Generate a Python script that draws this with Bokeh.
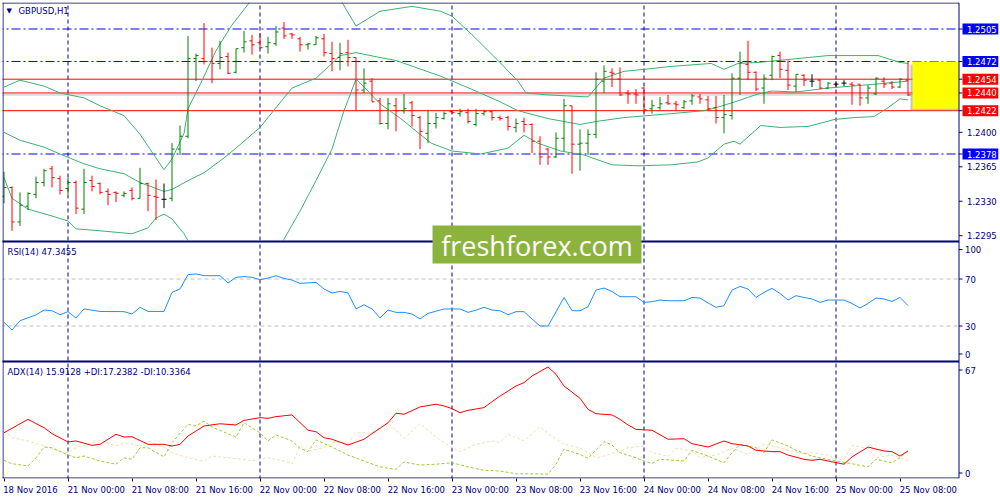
from bokeh.plotting import figure
from bokeh.models import Range1d, FixedTicker, Label, ColumnDataSource
from bokeh.core.properties import value
from bokeh.embed import file_html
from bokeh.resources import INLINE

# ---------------- data ----------------
symbol = "GBPUSD,H1"
time_ticks = list(range(0, 113, 8))
time_labels = ["18 Nov 2016", "21 Nov 00:00", "21 Nov 08:00", "21 Nov 16:00", "22 Nov 00:00",
               "22 Nov 08:00", "22 Nov 16:00", "23 Nov 00:00", "23 Nov 08:00", "23 Nov 16:00",
               "24 Nov 00:00", "24 Nov 08:00", "24 Nov 16:00", "25 Nov 00:00", "25 Nov 08:00"]
day_grid = [8, 32, 56, 80, 104]

opens = [1.2335,1.2344,1.2309,1.2325,1.2337,1.2349,1.2363,1.2353,1.2343,1.2349,
1.2322,1.2351,1.2348,1.2340,1.2339,1.2336,1.2341,1.2333,1.2348,1.2335,
1.2332,1.2333,1.2383,1.2396,1.2475,1.2475,1.2472,1.2470,1.2477,1.2461,
1.2486,1.2493,1.2491,1.2487,1.2490,1.2506,1.2500,1.2495,1.2489,1.2489,
1.2495,1.2480,1.2476,1.2481,1.2476,1.2443,1.2452,1.2432,1.2409,1.2427,
1.2422,1.2430,1.2415,1.2399,1.2409,1.2414,1.2421,1.2419,1.2420,1.2408,
1.2419,1.2421,1.2415,1.2415,1.2405,1.2411,1.2408,1.2391,1.2383,1.2375,
1.2394,1.2427,1.2388,1.2389,1.2398,1.2452,1.2461,1.2454,1.2440,1.2439,
1.2445,1.2424,1.2425,1.2430,1.2429,1.2425,1.2432,1.2436,1.2433,1.2425,
1.2415,1.2417,1.2455,1.2469,1.2461,1.2445,1.2458,1.2478,1.2463,1.2447,
1.2458,1.2452,1.2453,1.2445,1.2449,1.2450,1.2449,1.2449,1.2435,1.2439,
1.2452,1.2450,1.2446,1.2453]
highs = [1.2360,1.2345,1.2339,1.2339,1.2355,1.2363,1.2366,1.2356,1.2354,1.2351,
1.2363,1.2356,1.2349,1.2343,1.2340,1.2340,1.2344,1.2364,1.2349,1.2352,
1.2348,1.2389,1.2407,1.2498,1.2480,1.2511,1.2486,1.2493,1.2481,1.2485,
1.2503,1.2499,1.2501,1.2497,1.2508,1.2512,1.2501,1.2497,1.2491,1.2498,
1.2500,1.2492,1.2491,1.2494,1.2476,1.2465,1.2455,1.2435,1.2435,1.2435,
1.2439,1.2432,1.2417,1.2423,1.2420,1.2421,1.2422,1.2424,1.2424,1.2424,
1.2423,1.2422,1.2417,1.2417,1.2414,1.2415,1.2409,1.2396,1.2384,1.2400,
1.2434,1.2427,1.2403,1.2403,1.2461,1.2468,1.2465,1.2466,1.2443,1.2444,
1.2446,1.2433,1.2436,1.2438,1.2432,1.2433,1.2439,1.2439,1.2437,1.2437,
1.2438,1.2460,1.2482,1.2493,1.2462,1.2459,1.2478,1.2482,1.2473,1.2459,
1.2459,1.2459,1.2454,1.2451,1.2452,1.2453,1.2451,1.2449,1.2448,1.2456,
1.2456,1.2452,1.2455,1.2472]
lows = [1.2328,1.2300,1.2305,1.2321,1.2333,1.2345,1.2344,1.2337,1.2337,1.2317,
1.2317,1.2340,1.2337,1.2326,1.2329,1.2334,1.2331,1.2333,1.2320,1.2311,
1.2323,1.2330,1.2377,1.2394,1.2452,1.2469,1.2450,1.2464,1.2459,1.2460,
1.2481,1.2479,1.2485,1.2480,1.2488,1.2495,1.2495,1.2482,1.2484,1.2489,
1.2477,1.2462,1.2463,1.2467,1.2422,1.2440,1.2431,1.2408,1.2403,1.2401,
1.2419,1.2406,1.2383,1.2389,1.2404,1.2413,1.2419,1.2416,1.2409,1.2406,
1.2417,1.2412,1.2412,1.2402,1.2400,1.2400,1.2379,1.2367,1.2367,1.2374,
1.2381,1.2358,1.2361,1.2377,1.2394,1.2440,1.2446,1.2437,1.2429,1.2429,
1.2420,1.2419,1.2423,1.2428,1.2422,1.2424,1.2428,1.2429,1.2422,1.2409,
1.2399,1.2413,1.2438,1.2453,1.2442,1.2429,1.2453,1.2455,1.2443,1.2441,
1.2447,1.2446,1.2444,1.2444,1.2446,1.2447,1.2428,1.2427,1.2429,1.2438,
1.2445,1.2444,1.2445,1.2437]
closes = [1.2344,1.2309,1.2326,1.2338,1.2349,1.2361,1.2354,1.2341,1.2349,1.2323,
1.2349,1.2345,1.2339,1.2337,1.2338,1.2338,1.2333,1.2348,1.2336,1.2334,
1.2332,1.2383,1.2396,1.2475,1.2478,1.2472,1.2470,1.2476,1.2460,1.2485,
1.2492,1.2489,1.2486,1.2491,1.2502,1.2498,1.2499,1.2489,1.2490,1.2496,
1.2481,1.2475,1.2480,1.2476,1.2443,1.2450,1.2431,1.2409,1.2429,1.2422,
1.2424,1.2417,1.2401,1.2409,1.2415,1.2419,1.2420,1.2421,1.2411,1.2419,
1.2421,1.2415,1.2414,1.2406,1.2409,1.2408,1.2391,1.2375,1.2375,1.2394,
1.2427,1.2388,1.2389,1.2398,1.2454,1.2462,1.2460,1.2438,1.2439,1.2438,
1.2423,1.2427,1.2429,1.2429,1.2428,1.2431,1.2437,1.2434,1.2424,1.2415,
1.2418,1.2455,1.2471,1.2461,1.2444,1.2455,1.2477,1.2464,1.2448,1.2459,
1.2453,1.2452,1.2445,1.2450,1.2449,1.2450,1.2448,1.2435,1.2445,1.2455,
1.2449,1.2446,1.2454,1.2438]

bb_upper_x = [0,2,5,7,10,12,15,17,19,20,21,22.5,23,24.6,26.5,28.4,30.6,32,34,36,38,40,41,42.4,44,47,51,
              54.6,56,58.4,61.75,64.25,65.25,68,73,75,77.5,80,83.4,88.4,90,91.75,94.25,98,103,109.25,112,113]
bb_upper = [1.2446,1.2453,1.2447,1.2440,1.2435,1.2427,1.2417,1.2398,1.2374,1.2362,1.2373,1.2399,1.2424,1.2450,
            1.2483,1.2508,1.2531,1.2555,1.2580,1.2585,1.2569,1.2557,1.2552,1.2530,1.2508,1.2523,1.2528,1.2523,
            1.2518,1.2500,1.2473,1.2452,1.2440,1.2438,1.2436,1.2455,1.2462,1.2464,1.2467,1.2470,1.2464,1.2470,
            1.2471,1.2474,1.2478,1.2478,1.2471,1.2470]
bb_middle_x = [0,2,5,7,10,12,15,17,20,21,23,25,27.5,29,32,36,39,41,42,44,47,49,54.6,58.4,61.75,64.25,68,72,74,
               77.5,83.4,87.5,89,91.75,94.25,96,99,103,106,109,113]
bb_middle = [1.2400,1.2392,1.2385,1.2378,1.2368,1.2363,1.2358,1.2349,1.2340,1.2342,1.2351,1.2359,1.2374,1.2384,
             1.2405,1.2445,1.2455,1.2470,1.2478,1.2481,1.2476,1.2473,1.2457,1.2444,1.2432,1.2422,1.2414,1.2408,
             1.2411,1.2415,1.2419,1.2422,1.2425,1.2432,1.2439,1.2442,1.2441,1.2445,1.2447,1.2449,1.2452]
bb_lower_x = [0,1,3,6,8,9,12,16,18,19,20,21,22.5,23,24,26,28,30,32,34,34.9,37,39,41,42.5,44,45.25,47,49.6,52,
              53.4,56,59.6,63,65,66.75,69.6,72.5,76,79.25,83.4,86.75,88,90,91.25,92,94.6,97,100.5,103.75,106.25,
              108.75,110.5,112,113]
bb_lower = [1.2354,1.2333,1.2322,1.2315,1.2310,1.2302,1.2300,1.2297,1.2303,1.2313,1.2317,1.2312,1.2297,1.2290,
            1.2275,1.2255,1.2245,1.2250,1.2255,1.2270,1.2290,1.2320,1.2351,1.2383,1.2422,1.2454,1.2444,1.2429,
            1.2414,1.2398,1.2389,1.2381,1.2378,1.2384,1.2397,1.2389,1.2381,1.2377,1.2367,1.2366,1.2367,1.2370,
            1.2374,1.2388,1.2391,1.2388,1.2407,1.2405,1.2406,1.2413,1.2415,1.2416,1.2425,1.2434,1.2433]

blue_levels = [1.2505, 1.2472, 1.2378]
red_levels = [1.2454, 1.2440, 1.2422]
price_ticks = [1.2400, 1.2365, 1.2330, 1.2295]
zone_top, zone_bottom = 1.2472, 1.2424

rsi = [33.1,26.6,34.5,37.0,39.5,43.6,43.0,39.6,42.2,36.8,
       44.5,43.5,42.4,42.3,42.3,42.2,40.2,45.9,42.4,42.4,
       42.4,58.6,61.5,73.7,74.3,72.8,72.8,72.8,66.6,71.4,
       72.0,71.5,69.4,70.8,72.8,70.5,69.1,66.3,66.7,67.1,
       61.5,58.1,59.4,58.1,44.5,48.1,44.5,36.8,43.6,41.6,
       41.6,40.2,36.0,40.7,42.6,44.5,44.5,44.5,41.6,43.5,
       45.9,43.6,43.0,39.6,42.2,42.2,36.0,30.0,30.0,42.0,
       54.3,43.0,43.0,46.4,60.6,62.3,59.4,54.9,54.9,54.9,
       50.1,50.7,52.1,51.5,51.5,51.5,54.3,53.8,49.6,45.9,
       47.3,60.6,63.7,61.5,54.3,58.6,62.0,57.7,52.1,55.8,
       54.3,53.0,50.1,52.1,52.1,52.1,49.2,45.3,49.2,53.8,
       53.0,50.9,54.3,47.35]
rsi_levels = [70, 30]
rsi_scale = [100, 70, 30, 0]

adx_x = [0,3,5,6,8,9,11,12,14,15,16,18,20,21,22,23,25,27,29,30,32,33,34,36,38,39,40,41,43,45,46,48,49,50,52,54,
         55,56,57,58,60,61,62,64,65,66,68,69,70,72,73,74,76,77,78,79,81,83,85,86,88,90,91,93,94,96,97,98,100,101,
         102,103,105,106,108,110,111,112,113]
adx = [26.6,34.5,29.6,26.1,21.2,21.8,19.2,19.8,25.7,24.1,24.3,19.8,19.8,18.8,19.8,24.7,30.6,31.9,31.2,33.9,
       35.5,35.1,36.1,37.1,28.1,27.2,23.7,22.8,19.4,22.8,26.1,32.5,38.1,37.5,41.8,43.4,42.4,40.8,38.4,39.8,
       41.4,44.9,48.2,54.1,56.1,60.0,65.3,61.0,54.1,46.9,40.4,37.8,37.1,34.5,31.2,28.6,28.1,22.8,23.1,20.2,
       18.2,21.8,20.2,18.8,16.3,15.5,15.5,13.5,11.0,10.4,11.0,10.0,8.1,12.4,18.2,15.9,15.5,12.9,15.9]
plus_di_x = [0,1,3,4,5,6,8,9,10,12,14,15,16,17,18,20,21,23,24,25,26,29,30,32,33,34,36,37,38,39,41,43,45,47,49,
             50,52,54,56,58,60,62,64,66,68,69,70,72,73,75,76,77,79,80,81,82,85,86,88,90,91,92,94,95,96,98,99,101,
             102,104,106,108,109,110,111,112,113]
plus_di = [10.4,8.4,7.1,11.9,18.2,17.8,13.5,11.9,12.9,10.0,8.1,11.9,11.0,17.8,17.8,12.4,20.8,31.6,30.6,33.5,
           30.0,24.1,32.5,26.6,21.8,25.3,21.8,17.5,15.5,22.4,18.2,13.5,10.0,6.5,5.1,9.4,7.6,8.1,9.0,6.5,
           4.5,4.1,2.5,2.5,2.2,8.1,16.9,13.9,11.6,21.4,19.4,14.9,11.9,10.0,8.6,11.0,10.0,16.3,12.9,9.0,
           14.9,19.8,17.8,14.9,22.4,18.8,16.3,12.9,11.9,10.0,8.4,6.5,11.0,10.0,9.0,11.9,16.0]
minus_di_x = [0,1,3,5,6,8,9,11,12,14,15,17,18,20,21,23,25,26,28,30,31,33,35,36,37,38,40,41,43,44,46,48,50,51,
              52,54,56,57,59,61,62,63,65,67,69,70,72,74,75,77,78,80,81,83,84,86,87,89,91,93,95,97,98,100,101,
              103,104,105,106,108,109,111,112,113]
minus_di = [27.6,23.7,21.8,18.8,16.9,14.9,17.8,20.8,22.2,18.8,20.8,18.8,21.8,18.2,14.9,11.9,10.0,12.9,11.9,11.0,
            10.0,11.9,10.0,8.4,18.8,15.9,17.8,20.8,20.8,26.6,26.6,32.5,23.4,27.6,31.9,24.1,17.8,15.5,19.8,21.8,
            20.8,25.7,21.8,30.0,22.8,19.8,17.8,11.9,12.9,15.9,17.8,18.8,14.9,12.9,17.5,15.9,11.9,13.5,17.5,13.9,
            19.8,17.8,16.3,14.3,14.9,13.5,11.0,11.0,19.2,17.5,11.9,13.5,11.9,10.3]
adx_scale = [67, 0]

rsi_title = "RSI(14) 47.3455"
adx_title = "ADX(14) 15.9128 +DI:17.2382 -DI:10.3364"
watermark = "freshforex.com"

# ---------------- layout (pixel grid of the picture) ----------------
W, H = 1000, 500
BL, BR, BT, BB = 2, 2, 2, 22
AXIS_X = 958            # pixel column of the price scale line
FONT = "DejaVu Sans"
FS = "8.5px"
NAVY = "#000080"


def bx(rx):          # pixel x -> bar index
    return (rx - 3.5) / 8.0


def py(ry):          # pixel y -> price
    return 1.2505 - (ry - 28.5) / 9843.0


def price_px(v):
    return 28.5 + (1.2505 - v) * 9843.0


def rsi_at(ry):      # pixel y -> RSI value
    return 70 - (ry - 278.5) / 1.175


def rsi_px(v):
    return 278.5 - (v - 70) * 1.175


def adx_at(ry):      # pixel y -> ADX value
    return (477.5 - ry) / 1.7


def adx_px(v):
    return 477.5 - v * 1.7


x_lo, x_hi = bx(BL), bx(W - BR)
x_ax = bx(AXIS_X + 0.5)

p = figure(width=W, height=H, x_range=Range1d(x_lo, x_hi), y_range=Range1d(py(H - BB), py(BT)),
           y_axis_location=None, output_backend="svg", toolbar_location=None,
           min_border_left=BL, min_border_right=BR, min_border_top=BT, min_border_bottom=BB,
           background_fill_color="white", border_fill_color="white", outline_line_color=None)
p.extra_y_ranges = {"rsi": Range1d(rsi_at(H - BB), rsi_at(BT)),
                    "adx": Range1d(adx_at(H - BB), adx_at(BT))}
p.xgrid.visible = False
p.ygrid.visible = False

# time axis: labels start at their tick (left aligned) -> pad with no-break spaces of equal width
cw = {" ": 0.318, ":": 0.337, "N": 0.748, "o": 0.612, "v": 0.592}


def left_aligned(s, first=False):
    if first:
        return "\u00a0" + s
    w = sum(cw.get(ch, 0.636) for ch in s)
    return "\u00a0" * int(round(w / 0.318)) + s


xa = p.xaxis[0]
xa.ticker = FixedTicker(ticks=time_ticks)
xa.major_label_overrides = {t: left_aligned(s, k == 0) for k, (t, s) in enumerate(zip(time_ticks, time_labels))}
xa.axis_line_color = None
xa.major_tick_line_color = NAVY
xa.major_tick_in = 0
xa.major_tick_out = 3
xa.minor_tick_line_color = None
xa.major_label_text_color = NAVY
xa.major_label_text_font = FONT
xa.major_label_text_font_size = FS
xa.major_label_standoff = 3

grid_kw = dict(line_color=NAVY, line_dash="4 3", line_width=1)

# ---- main price panel ----
p.segment(x0=day_grid, x1=day_grid, y0=py(240), y1=py(BT), **grid_kw)
p.segment(x0=x_lo - 1, x1=x_ax, y0=blue_levels, y1=blue_levels, line_color="#0000FF",
          line_dash="9 3 2 3", line_width=1)
p.segment(x0=x_lo - 1, x1=x_ax, y0=[closes[-1]], y1=[closes[-1]], line_color="#C0C0C0", line_width=1)
p.segment(x0=x_lo - 1, x1=x_ax, y0=red_levels, y1=red_levels, line_color="#FF0000", line_width=1)

bb_col = "#3CB371"
p.line(bb_upper_x, bb_upper, line_color=bb_col, line_width=1)
p.line(bb_middle_x, bb_middle, line_color=bb_col, line_width=1)
p.line(bb_lower_x, bb_lower, line_color=bb_col, line_width=1)

idx = list(range(len(closes)))
cols = ["#008000" if c > o else ("#FF0000" if c < o else "#000000") for o, c in zip(opens, closes)]
src = ColumnDataSource(dict(i=idx, o=opens, h=highs, l=lows, c=closes, col=cols,
                            il=[k - 0.32 for k in idx], ir=[k + 0.32 for k in idx]))
p.segment(x0="i", x1="i", y0="l", y1="h", line_color="col", line_width=1, source=src)
p.segment(x0="il", x1="i", y0="o", y1="o", line_color="col", line_width=1, source=src)
p.segment(x0="i", x1="ir", y0="c", y1="c", line_color="col", line_width=1, source=src)

# highlighted zone with drop shadow
p.quad(left=bx(910), right=x_ax, top=py(64), bottom=py(110), fill_color="#8a8a8a",
       fill_alpha=0.5, line_color=None)
p.quad(left=bx(912), right=x_ax, top=zone_top, bottom=zone_bottom, fill_color="#FFFF00", line_color=None)

# clip of the price panel (everything below it and right of the scale line)
p.quad(left=x_lo - 1, right=x_hi + 1, top=py(240), bottom=py(H), fill_color="white", line_color=None)
p.quad(left=bx(AXIS_X + 1), right=x_hi + 1, top=py(0), bottom=py(H), fill_color="white", line_color=None)

# ---- RSI panel ----
p.segment(x0=day_grid, x1=day_grid, y0=rsi_at(360), y1=rsi_at(242), y_range_name="rsi", **grid_kw)
p.segment(x0=x_lo - 1, x1=x_ax, y0=rsi_levels, y1=rsi_levels, y_range_name="rsi",
          line_color="#C0C0C0", line_dash="4 3", line_width=1)
p.line(idx, rsi, y_range_name="rsi", line_color="#1E90FF", line_width=1)

# ---- ADX panel ----
p.segment(x0=day_grid, x1=day_grid, y0=adx_at(479), y1=adx_at(362), y_range_name="adx", **grid_kw)
p.line(minus_di_x, minus_di, y_range_name="adx", line_color="#F5DEB3", line_dash="3 2", line_width=1)
p.line(plus_di_x, plus_di, y_range_name="adx", line_color="#9ACD32", line_dash="3 2", line_width=1)
p.line(adx_x, adx, y_range_name="adx", line_color="#FF0000", line_width=1)

# ---- panel borders and price-scale line ----
p.segment(x0=x_lo - 1, x1=x_ax, y0=[py(2.5), py(477.5)], y1=[py(2.5), py(477.5)], line_color=NAVY, line_width=1)
p.segment(x0=x_lo - 1, x1=x_ax, y0=[py(241), py(361)], y1=[py(241), py(361)], line_color=NAVY, line_width=2)
p.segment(x0=[bx(2.5), x_ax], x1=[bx(2.5), x_ax], y0=py(2), y1=py(478), line_color=NAVY, line_width=1)

# ---- price scale (right) ----
tk0, tk1 = x_ax, bx(AXIS_X + 4)
all_price_marks = price_ticks + blue_levels + red_levels
p.segment(x0=tk0, x1=tk1, y0=all_price_marks, y1=all_price_marks, line_color=NAVY, line_width=1)
txt_kw = dict(text_font=value(FONT), text_font_size=value(FS), text_baseline="middle", text_align="left")
p.text(x=bx(966.5), y=price_ticks, text=[f"{v:.4f}" for v in price_ticks], text_color=NAVY, **txt_kw)

box_levels = blue_levels + red_levels
box_fill = ["#0000FF"] * len(blue_levels) + ["#FF0000"] * len(red_levels)
p.quad(left=bx(962), right=bx(998), top=[py(price_px(v) - 5.5) for v in box_levels],
       bottom=[py(price_px(v) + 5.5) for v in box_levels], fill_color=box_fill, line_color=None)
p.text(x=bx(966.5), y=box_levels, text=[f"{v:.4f}" for v in box_levels], text_color="white", **txt_kw)

# RSI / ADX scales (labels kept inside their panel)
rsi_lab_y = [rsi_at(min(max(rsi_px(v), 249.0), 353.5)) for v in rsi_scale]
p.segment(x0=tk0, x1=tk1, y0=rsi_lab_y, y1=rsi_lab_y, y_range_name="rsi", line_color=NAVY, line_width=1)
p.text(x=bx(964.5), y=rsi_lab_y, text=[str(v) for v in rsi_scale], y_range_name="rsi", text_color=NAVY, **txt_kw)
adx_lab_y = [adx_at(min(max(adx_px(v), 369.5), 472.5)) for v in adx_scale]
p.segment(x0=tk0, x1=tk1, y0=adx_lab_y, y1=adx_lab_y, y_range_name="adx", line_color=NAVY, line_width=1)
p.text(x=bx(964.5), y=adx_lab_y, text=[str(v) for v in adx_scale], y_range_name="adx", text_color=NAVY, **txt_kw)

# ---- watermark ----
p.quad(left=bx(432), right=bx(641), top=py(225), bottom=py(263), fill_color="#8DB33F", line_color=None)
p.add_layout(Label(x=bx(536.5), y=py(245), text=watermark, text_align="center", text_baseline="middle",
                   text_color="white", text_font="Open Sans", text_font_size="27px"))


# ---- titles ----
def add_text(x, y, text, rng="default", **extra):
    kw = dict(x=x, y=y, text=text, y_range_name=rng, text_font=FONT, text_font_size=FS,
              text_color=NAVY, text_baseline="middle", text_align="left")
    kw.update(extra)
    p.add_layout(Label(**kw))


add_text(bx(6), py(10.5), "\u25BC", text_font_size="7px")
add_text(bx(18), py(10.5), symbol)
add_text(bx(7), rsi_at(251.5), rsi_title, rng="rsi")
add_text(bx(7), adx_at(371.5), adx_title, rng="adx")

open("out.html", "w").write(file_html(p, INLINE, title="GBPUSD H1"))
